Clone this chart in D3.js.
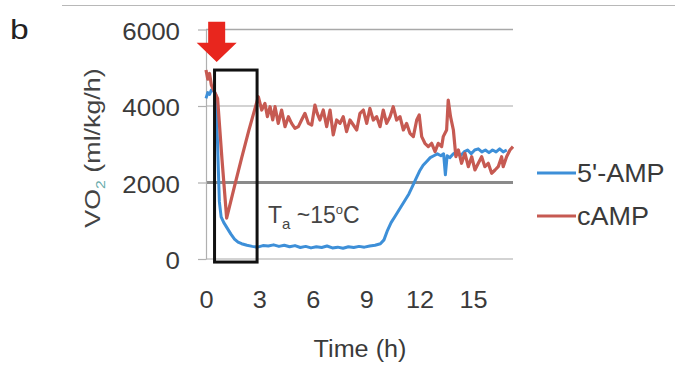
<!DOCTYPE html>
<html><head><meta charset="utf-8">
<script src="https://cdn.jsdelivr.net/npm/d3@7/dist/d3.min.js"></script>
<style>html,body{margin:0;padding:0;background:#fff;}svg{display:block;}</style>
</head><body><svg id="c" width="675" height="383"></svg>
<script>
// ---- data ----
const yTicks = [0, 2000, 4000, 6000];
const xTicks = [0, 3, 6, 9, 12, 15];
const seriesNames = ["5'-AMP", "cAMP"];
const ampT = [0,0.1,0.2,0.3,0.45,0.55,0.65,0.75,0.85,1.0,1.2,1.4,1.6,1.8,2.0,2.3,2.6,2.9,3.2,3.5,3.8,4.1,4.4,4.7,5.0,5.3,5.6,5.9,6.2,6.5,6.8,7.1,7.4,7.7,8.0,8.3,8.6,8.9,9.2,9.5,9.8,10.0,10.2,10.4,10.6,10.8,11.0,11.2,11.4,11.6,11.8,12.0,12.2,12.4,12.6,12.8,13.0,13.2,13.35,13.45,13.55,13.7,13.9,14.1,14.3,14.5,14.7,14.9,15.1,15.3,15.5,15.7,15.9,16.1,16.3,16.5,16.7,16.9];
const ampV = [4200,4350,4300,4420,4380,4300,3000,1500,1100,950,800,650,520,440,400,360,330,310,350,340,370,330,360,320,350,300,330,290,320,300,340,290,310,280,320,300,330,310,340,360,400,500,750,950,1100,1250,1400,1550,1700,1900,2100,2300,2450,2550,2650,2700,2750,2700,2750,2200,2700,2650,2750,2800,2700,2800,2850,2750,2850,2880,2800,2850,2780,2850,2800,2880,2800,2850];
const campT = [0,0.1,0.2,0.3,0.4,0.5,0.65,0.9,1.16,1.6,2.0,2.4,2.94,3.13,3.31,3.45,3.6,3.75,3.88,4.06,4.25,4.44,4.63,4.81,5.0,5.19,5.37,5.56,5.75,5.94,6.12,6.25,6.4,6.59,6.78,6.97,7.15,7.34,7.53,7.71,7.9,8.09,8.28,8.47,8.65,8.84,9.03,9.21,9.4,9.59,9.78,9.96,10.15,10.34,10.52,10.71,10.9,11.09,11.27,11.46,11.65,11.84,11.98,12.12,12.3,12.49,12.68,12.87,13.05,13.24,13.33,13.52,13.61,13.74,13.9,14.04,14.18,14.36,14.55,14.74,14.93,15.11,15.3,15.49,15.67,15.86,16.05,16.24,16.42,16.61,16.7,16.89,17.08,17.25];
const campV = [4940,4700,4850,4550,4450,4350,4200,2600,1070,1900,2640,3350,4243,3895,4070,3720,3982,3634,3982,3547,3895,3460,3720,3547,3417,3460,3634,3808,3547,3503,4026,3808,3634,3895,3460,3895,3242,3634,3547,3720,3329,3634,3503,3373,3808,3895,3547,3939,3634,3720,3460,3895,3547,3720,3982,3634,3720,3373,3547,3286,3199,3634,3765,3199,3025,2937,3025,2806,3025,2937,3199,3373,4157,3720,3373,2675,2850,2502,2763,2414,2675,2327,2502,2675,2414,2502,2240,2327,2414,2675,2414,2675,2850,2937];
const boxT = [0.48, 2.87];
const boxV = [-80, 4940];
const arrowT = 0.6, arrowTopV = 6200, arrowTipV = 5150;

// ---- chart ----
const svg = d3.select("#c");
const font = "'Liberation Sans', Arial, sans-serif";
const txtCol = "#3a3a3a";
const x = d3.scaleLinear().domain([0, 17.25]).range([206, 513]);
const y = d3.scaleLinear().domain([0, 6000]).range([259, 29.5]);

// top border
svg.append("line").attr("x1", 62).attr("x2", 675).attr("y1", 5.5).attr("y2", 5.5)
  .attr("stroke", "#b8b8b8").attr("stroke-width", 1);

// gridlines
svg.append("g").selectAll("line").data(yTicks).join("line")
  .attr("x1", x(0)).attr("x2", x(17.25))
  .attr("y1", d => y(d)).attr("y2", d => y(d))
  .attr("stroke", d => d === 2000 ? "#8a8a8a" : (d === 6000 ? "#a8a8a8" : "#c4c4c4"))
  .attr("stroke-width", d => d === 2000 ? 3 : 1.5);

// y axis
const gy = svg.append("g").attr("transform", `translate(${x(0)},0)`)
  .call(d3.axisLeft(y).tickValues(yTicks).tickSize(8).tickSizeOuter(0).tickPadding(18).tickFormat(d3.format("d")));
gy.select(".domain").attr("stroke", "#b0b0b0").attr("stroke-width", 1.2);
gy.selectAll(".tick line").attr("stroke", "#b0b0b0").attr("stroke-width", 1.2);
gy.selectAll(".tick text").each(function () {
  const t = d3.select(this);
  const xx = +t.attr("x");
  t.attr("x", 0).attr("transform", `translate(${xx},0) scale(1.08,1)`).attr("dy", "0.4em");
}).attr("font-family", font).attr("font-size", 24).attr("fill", txtCol);

// x axis
const gx = svg.append("g").attr("transform", `translate(0,${y(0)})`)
  .call(d3.axisBottom(x).tickValues(xTicks).tickSize(0).tickPadding(33));
gx.select(".domain").remove();
gx.selectAll(".tick text").attr("font-family", font).attr("font-size", 23).attr("fill", txtCol)
  .attr("transform", "scale(1.1,1)");

// lines
const line = d3.line().x(d => x(d[0])).y(d => y(d[1]));
const camp = campT.map((t, i) => [t, campV[i]]);
const amp = ampT.map((t, i) => [t, ampV[i]]);
svg.append("path").datum(amp).attr("d", line).attr("fill", "none")
  .attr("stroke", "#3d8fd8").attr("stroke-width", 3).attr("stroke-linejoin", "round");
svg.append("path").datum(camp).attr("d", line).attr("fill", "none")
  .attr("stroke", "#c65a52").attr("stroke-width", 3.2).attr("stroke-linejoin", "round");

// box
svg.append("rect").attr("x", x(boxT[0])).attr("y", y(boxV[1]))
  .attr("width", x(boxT[1]) - x(boxT[0])).attr("height", y(boxV[0]) - y(boxV[1]))
  .attr("fill", "none").attr("stroke", "#111").attr("stroke-width", 3);

// arrow
const ax = x(arrowT), aTop = y(arrowTopV), aTip = y(arrowTipV);
const headY = aTop + (aTip - aTop) * 0.52;
svg.append("path").attr("fill", "#e8261e").attr("d",
  `M${ax - 8.5},${aTop} L${ax + 8.5},${aTop} L${ax + 8.5},${headY} L${ax + 20},${headY} L${ax},${aTip} L${ax - 20},${headY} L${ax - 8.5},${headY} Z`);

// annotation
const ann = svg.append("text").attr("x", 268).attr("y", 223).attr("font-family", font)
  .attr("font-size", 23).attr("fill", "#454545");
ann.append("tspan").text("T");
ann.append("tspan").attr("font-size", 15).attr("dy", 6).text("a");
ann.append("tspan").attr("dy", -6).text(" ~15");
ann.append("tspan").attr("font-size", 13).attr("dy", -9).text("o");
ann.append("tspan").attr("dy", 9).text("C");

// y title
const yt = svg.append("text").attr("transform", "translate(100,148) rotate(-90) scale(1.22,1)")
  .attr("text-anchor", "middle").attr("font-family", font).attr("font-size", 22).attr("fill", "#444");
yt.append("tspan").text("VO");
yt.append("tspan").attr("font-size", 13).attr("dy", 5).attr("fill", "#6aa").text("2");
yt.append("tspan").attr("dy", -5).text(" (ml/kg/h)");

// x title
svg.append("text").attr("transform", "translate(360,357) scale(1.05,1)").attr("text-anchor", "middle")
  .attr("font-family", font).attr("font-size", 24).attr("fill", txtCol).text("Time (h)");

// panel label
svg.append("text").attr("transform", "translate(10,39) scale(1.2,1)")
  .attr("font-family", font).attr("font-size", 28).attr("fill", "#222").text("b");

// legend
const legCols = ["#3d8fd8", "#c65a52"];
const legY = [173, 216];
const lg = svg.append("g").selectAll("g").data(seriesNames).join("g")
  .attr("transform", (d, i) => `translate(537,${legY[i]})`);
lg.append("line").attr("x1", 0).attr("x2", 39).attr("stroke", (d, i) => legCols[i]).attr("stroke-width", 3);
lg.append("text").attr("transform", "translate(40,9) scale(1.08,1)").attr("font-family", font)
  .attr("font-size", 25).attr("fill", txtCol).text(d => d);
</script></body></html>
